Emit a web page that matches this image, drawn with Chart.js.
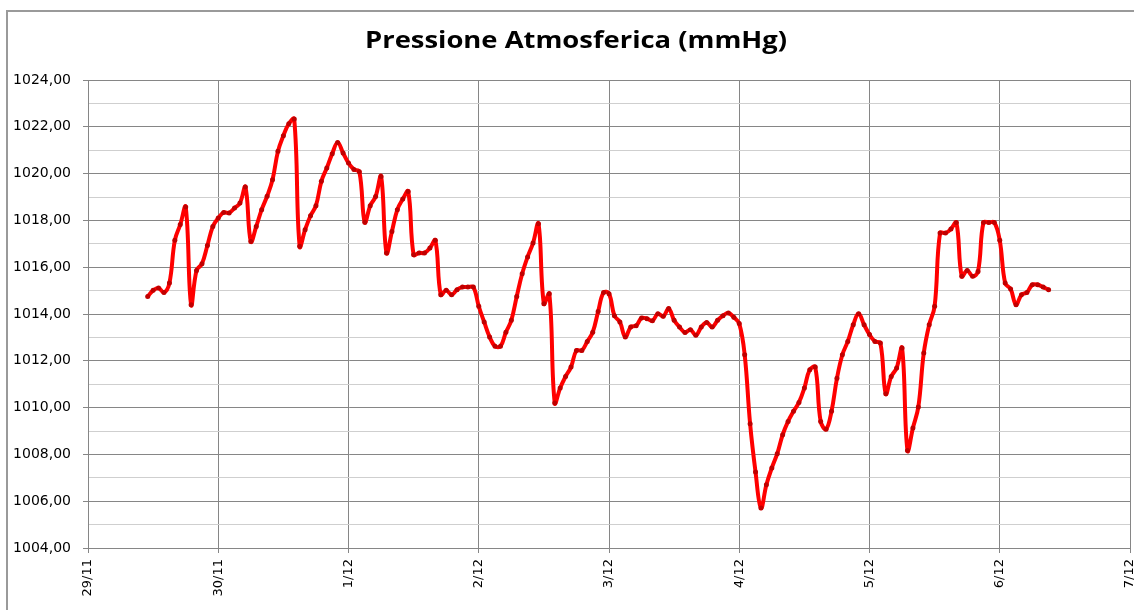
<!DOCTYPE html>
<html><head><meta charset="utf-8">
<script src="https://cdn.jsdelivr.net/npm/chart.js@4.4.0/dist/chart.umd.min.js"></script>
<style>html,body{margin:0;padding:0;background:#fff;overflow:hidden}</style>
</head><body>
<canvas id="c" width="1134" height="610"></canvas>
<script>
const chartTitle = 'Pressione Atmosferica (mmHg)';
const dayLabels = ['29/11','30/11','1/12','2/12','3/12','4/12','5/12','6/12','7/12'];
const firstHour = 11; // first reading: 29/11 11:00, then one reading per hour
const pressure = [
  1014.75,1015.01,1015.11,1014.92,1015.32,1017.15,1017.82,1018.57,1014.40,1015.86,
  1016.15,1016.93,1017.74,1018.10,1018.34,1018.32,1018.53,1018.74,1019.43,1017.10,
  1017.74,1018.46,1019.03,1019.74,1020.95,1021.62,1022.13,1022.33,1016.89,1017.60,
  1018.20,1018.63,1019.67,1020.24,1020.85,1021.33,1020.88,1020.45,1020.18,1020.08,
  1017.92,1018.63,1019.02,1019.88,1016.61,1017.53,1018.46,1018.91,1019.24,1016.53,
  1016.61,1016.61,1016.82,1017.15,1014.82,1015.01,1014.82,1015.04,1015.15,1015.15,
  1015.15,1014.33,1013.66,1013.02,1012.62,1012.62,1013.22,1013.73,1014.75,1015.72,
  1016.44,1017.03,1017.86,1014.44,1014.87,1010.20,1010.84,1011.33,1011.73,1012.44,
  1012.44,1012.83,1013.22,1014.11,1014.92,1014.87,1013.93,1013.66,1013.02,1013.44,
  1013.50,1013.83,1013.80,1013.71,1014.01,1013.90,1014.23,1013.73,1013.44,1013.21,
  1013.33,1013.09,1013.44,1013.64,1013.44,1013.73,1013.93,1014.04,1013.86,1013.59,
  1012.26,1009.31,1007.25,1005.71,1006.70,1007.42,1008.03,1008.84,1009.41,1009.84,
  1010.22,1010.84,1011.62,1011.73,1009.41,1009.08,1009.84,1011.25,1012.26,1012.83,
  1013.54,1014.01,1013.54,1013.12,1012.83,1012.76,1010.59,1011.33,1011.69,1012.55,
  1008.17,1009.13,1010.03,1012.33,1013.54,1014.33,1017.46,1017.46,1017.63,1017.91,
  1015.61,1015.86,1015.61,1015.82,1017.91,1017.91,1017.91,1017.15,1015.32,1015.07,
  1014.40,1014.82,1014.92,1015.25,1015.25,1015.15,1015.04
];
const yMin = 1004, yMax = 1024;

const points = pressure.map((v, i) => ({x: firstHour + i, y: v}));

const deco = {
  id: 'deco',
  beforeDraw(chart) {
    const ctx = chart.ctx;
    ctx.save();
    ctx.fillStyle = '#ffffff';
    ctx.fillRect(0, 0, chart.width, chart.height);
    ctx.strokeStyle = '#9a9a9a';
    ctx.lineWidth = 2;
    ctx.beginPath();
    ctx.moveTo(7, chart.height);
    ctx.lineTo(7, 11);
    ctx.lineTo(chart.width, 11);
    ctx.stroke();
    ctx.font = 'bold 24px "Open Sans"';
    ctx.textAlign = 'center';
    ctx.textBaseline = 'alphabetic';
    ctx.fillStyle = '#000';
    const w = ctx.measureText(chartTitle).width;
    const sx = 422 / w;
    ctx.translate(576, 47.5);
    ctx.scale(sx, 1);
    ctx.fillText(chartTitle, 0, 0);
    ctx.restore();
  }
};

new Chart(document.getElementById('c'), {
  type: 'line',
  data: { datasets: [{
    data: points,
    borderColor: '#ff0000',
    borderWidth: 4,
    tension: 0.4,
    pointRadius: 2.5,
    pointBackgroundColor: '#c00000',
    pointBorderColor: '#c00000',
    pointBorderWidth: 0,
    fill: false
  }]},
  options: {
    responsive: false,
    devicePixelRatio: 1,
    animation: false,
    layout: { padding: { left: 8, top: 80, right: 3, bottom: 0 } },
    plugins: { legend: { display: false }, title: { display: false }, tooltip: { enabled: false } },
    scales: {
      x: {
        type: 'linear', min: 0, max: (dayLabels.length - 1) * 24,
        afterBuildTicks(s) { s.ticks = dayLabels.map((d, i) => ({value: i * 24})); },
        ticks: {
          callback: (v) => dayLabels[Math.round(v / 24)],
          maxRotation: 90, minRotation: 90, autoSkip: false,
          font: { family: 'DejaVu Sans', size: 13 }, color: '#000', padding: 6
        },
        grid: { color: '#868686', lineWidth: 1, tickLength: 5, drawTicks: true },
        border: { color: '#868686', width: 1 },
        afterFit(s) { s.height = 62; s.paddingLeft = 0; s.paddingRight = 0; }
      },
      y: {
        min: yMin, max: yMax,
        ticks: {
          stepSize: 1, autoSkip: false,
          callback: (v) => (Math.round(v) % 2 === 0 ? v.toFixed(2).replace('.', ',') : ''),
          font: { family: 'DejaVu Sans', size: 14 }, color: '#000', padding: 12
        },
        grid: {
          color: (c) => (Math.round(c.tick.value) % 2 === 0 ? '#868686' : '#cfcfcf'),
          tickColor: (c) => (Math.round(c.tick.value) % 2 === 0 ? '#868686' : 'rgba(0,0,0,0)'),
          lineWidth: 1, tickLength: 5
        },
        border: { color: '#868686', width: 1 },
        afterFit(s) { s.width = 80; s.paddingTop = 0; s.paddingBottom = 0; }
      }
    }
  },
  plugins: [deco]
});
</script>
</body></html>
